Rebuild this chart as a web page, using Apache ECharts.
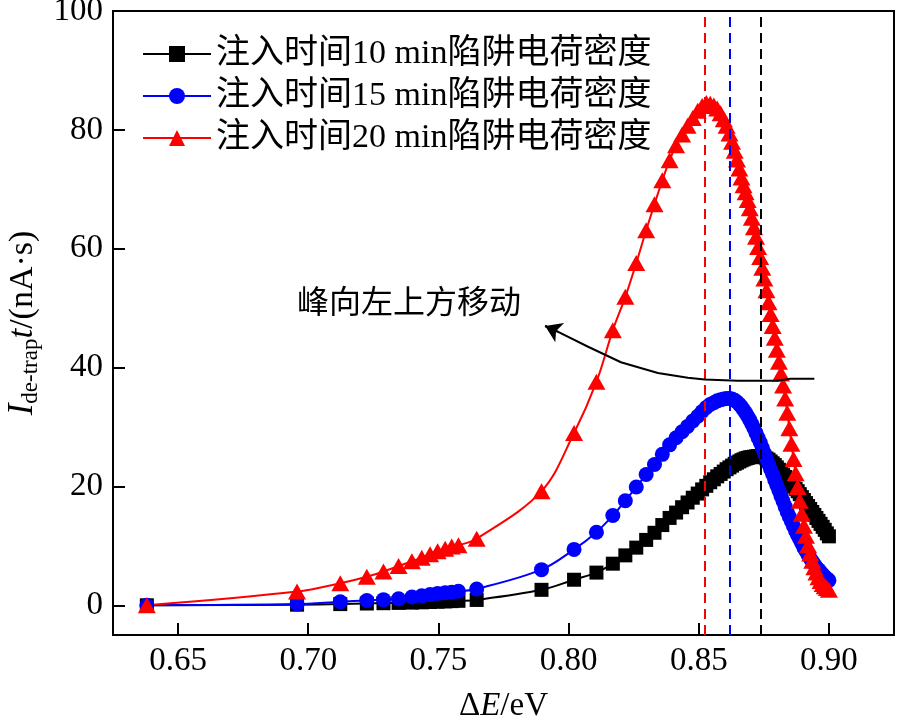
<!DOCTYPE html>
<html>
<head>
<meta charset="utf-8">
<script src="https://cdn.jsdelivr.net/npm/echarts@6/dist/echarts.min.js"></script>
<style>
html,body{margin:0;padding:0;background:#fff;}
#chart{width:898px;height:725px;}
</style>
</head>
<body>
<div id="chart"></div>
<script>
// ΔE / eV (shared sampling of all three curves)
const energy = [0.638, 0.6957, 0.7123, 0.7225, 0.7289, 0.7347, 0.7398, 0.7436, 0.7468, 0.7497,
  0.7526, 0.7551, 0.7577, 0.7647, 0.7896, 0.8021, 0.8107, 0.8170, 0.8218, 0.8260,
  0.8298, 0.8330, 0.8360, 0.8388, 0.8413, 0.8436, 0.8457, 0.8477, 0.8496, 0.8513,
  0.8529, 0.8544, 0.8558, 0.8571, 0.8584, 0.8596, 0.8607, 0.8618, 0.8628, 0.8638,
  0.8647, 0.8656, 0.8664, 0.8672, 0.8680, 0.8688, 0.8696, 0.8704, 0.8712, 0.8720,
  0.8728, 0.8736, 0.8744, 0.8752, 0.8760, 0.8768, 0.8776, 0.8784, 0.8792, 0.8800,
  0.8808, 0.8816, 0.8824, 0.8832, 0.8840, 0.8848, 0.8856, 0.8864, 0.8872, 0.8880,
  0.8888, 0.8896, 0.8904, 0.8912, 0.8920, 0.8928, 0.8936, 0.8944, 0.8952, 0.8960,
  0.8968, 0.8976, 0.8984, 0.8992, 0.9000];

// I_de-trap * t / (nA·s)
const density10 = [0.0, 0.1, 0.2, 0.3, 0.35, 0.4, 0.45, 0.5, 0.55, 0.6,
  0.65, 0.7, 0.75, 0.9, 2.6, 4.3, 5.5, 7.0, 8.4, 9.7,
  11.0, 12.2, 13.5, 14.7, 15.6, 16.5, 17.3, 18.1, 18.8, 19.5,
  20.1, 20.7, 21.2, 21.7, 22.1, 22.5, 22.9, 23.2, 23.5, 23.8,
  24.0, 24.2, 24.4, 24.55, 24.7, 24.8, 24.9, 24.95, 25.0, 25.05,
  25.1, 25.1, 25.05, 24.9, 24.7, 24.5, 24.2, 23.9, 23.6, 23.2,
  22.8, 22.4, 22.0, 21.6, 21.2, 20.8, 20.4, 20.0, 19.6, 19.2,
  18.7, 18.2, 17.7, 17.2, 16.7, 16.2, 15.7, 15.2, 14.7, 14.2,
  13.7, 13.2, 12.7, 12.1, 11.6];

const density15 = [0.0, 0.2, 0.6, 0.8, 0.95, 1.1, 1.4, 1.6, 1.8, 2.0,
  2.1, 2.2, 2.35, 2.75, 6.0, 9.4, 12.3, 15.1, 17.6, 19.9,
  22.0, 23.7, 25.4, 27.0, 28.2, 29.2, 30.1, 31.0, 31.8, 32.6,
  33.3, 33.8, 34.1, 34.4, 34.6, 34.7, 34.8, 34.8, 34.7, 34.5,
  34.2, 33.8, 33.4, 32.9, 32.4, 31.8, 31.2, 30.5, 29.8, 29.0,
  28.2, 27.4, 26.5, 25.6, 24.7, 23.8, 22.9, 22.0, 21.1, 20.2,
  19.3, 18.4, 17.5, 16.6, 15.7, 14.9, 14.1, 13.3, 12.5, 11.8,
  11.1, 10.4, 9.7, 9.1, 8.5, 7.9, 7.4, 6.9, 6.4, 6.0,
  5.6, 5.2, 4.8, 4.5, 4.2];

const density20 = [0.0, 2.3, 3.7, 4.8, 5.7, 6.6, 7.4, 8.0, 8.6, 9.1,
  9.5, 9.9, 10.1, 11.2, 19.2, 29.0, 37.6, 46.3, 51.9, 57.6,
  63.1, 67.5, 71.5, 74.9, 77.4, 79.2, 80.7, 82.0, 83.2, 84.0,
  84.5, 84.4, 84.1, 83.6, 82.8, 81.8, 80.7, 79.4, 78.0, 76.5,
  75.0, 73.5, 72.0, 70.7, 69.5, 68.2, 66.8, 65.2, 63.6, 62.0,
  60.3, 58.6, 56.8, 55.0, 53.0, 51.0, 49.0, 47.0, 45.0, 43.0,
  41.0, 39.0, 37.0, 34.8, 32.4, 29.8, 27.2, 24.6, 22.2, 19.9,
  17.6, 15.4, 13.4, 11.7, 10.1, 8.7, 7.5, 6.4, 5.5, 4.7,
  4.1, 3.6, 3.2, 2.9, 2.6];

const seriesNames = ['注入时间10 min陷阱电荷密度', '注入时间15 min陷阱电荷密度', '注入时间20 min陷阱电荷密度'];
// peak positions marked by dashed lines: 20 min, 15 min, 10 min
const peakEnergy = [0.8523, 0.8619, 0.8738];
const xTicks = [0.65, 0.70, 0.75, 0.80, 0.85, 0.90];
const yTicks = [0, 20, 40, 60, 80, 100];
// annotation arrow path (data units), from tail to tip
const arrowPath = [[0.8944, 38.1], [0.8852, 38.1], [0.8803, 37.8], [0.8649, 37.8], [0.8523, 38.0],
  [0.8458, 38.3], [0.8343, 39.1], [0.8201, 40.9], [0.8075, 43.5], [0.7960, 46.0], [0.7910, 47.0]];
const annotationText = '峰向左上方移动';

const FONT = '"Liberation Serif", "Times New Roman", "Noto Sans CJK SC", serif';
const colors = ['#000000', '#0000ff', '#ff0000'];
const symbols = ['rect', 'circle', 'triangle'];
const symbolSizes = [14, 15, [18, 16]];
const densities = [density10, density15, density20];

const chart = echarts.init(document.getElementById('chart'), null, {renderer: 'canvas'});

const series = densities.map((d, i) => ({
  name: seriesNames[i],
  type: 'line',
  data: energy.map((x, k) => [x, d[k]]),
  smooth: 0.35,
  symbol: symbols[i],
  symbolSize: symbolSizes[i],
  showAllSymbol: true,
  itemStyle: {color: colors[i]},
  lineStyle: {color: colors[i], width: 2},
  emphasis: {disabled: true},
  animation: false
}));

// arrow body
series.push({
  type: 'lines',
  coordinateSystem: 'cartesian2d',
  polyline: true,
  lineStyle: {color: '#000', width: 2, opacity: 1},
  data: [{coords: arrowPath}],
  silent: true,
  animation: false,
  z: 6
});
// arrow head (last segment)
series.push({
  type: 'lines',
  coordinateSystem: 'cartesian2d',
  symbol: ['none', 'arrow'],
  symbolSize: 16,
  lineStyle: {color: '#000', width: 2, opacity: 1, curveness: 0},
  data: [{coords: arrowPath.slice(-2)}],
  silent: true,
  animation: false,
  z: 6
});

series.push({
  type: 'line',
  data: [],
  silent: true,
  animation: false,
  markLine: {
    silent: true,
    animation: false,
    precision: 4,
    symbol: ['none', 'none'],
    label: {show: false},
    emphasis: {disabled: true},
    data: [
      {xAxis: peakEnergy[0], lineStyle: {color: colors[2], type: [10, 6], width: 2}},
      {xAxis: peakEnergy[1], lineStyle: {color: colors[1], type: [10, 6], width: 2}},
      {xAxis: peakEnergy[2], lineStyle: {color: colors[0], type: [10, 6], width: 2}}
    ]
  }
});

const option = {
  backgroundColor: '#fff',
  animation: false,
  grid: {left: 113, top: 11, right: 4, bottom: 90, show: true, borderColor: '#000', borderWidth: 2,
    containLabel: false, outerBoundsMode: 'none'},
  legend: {
    orient: 'vertical',
    left: 137,
    top: 32,
    itemWidth: 68,
    itemHeight: 20,
    itemGap: 8,
    data: seriesNames,
    selectedMode: false,
    textStyle: {fontSize: 34, fontFamily: FONT, color: '#000'}
  },
  xAxis: {
    type: 'value',
    min: 0.625,
    max: 0.925,
    name: '{n|Δ}{i|E}{n|/eV}',
    nameLocation: 'middle',
    nameGap: 55,
    nameTextStyle: {
      rich: {
        n: {fontSize: 33, fontFamily: FONT, color: '#000'},
        i: {fontSize: 33, fontFamily: FONT, fontStyle: 'italic', color: '#000'}
      }
    },
    axisLine: {onZero: false, lineStyle: {color: '#000', width: 2}},
    axisTick: {inside: true, length: 12, lineStyle: {color: '#000', width: 2}, customValues: xTicks},
    axisLabel: {customValues: xTicks, margin: 10, fontSize: 33, fontFamily: FONT, color: '#000',
      formatter: v => v.toFixed(2)},
    splitLine: {show: false}
  },
  yAxis: {
    type: 'value',
    min: -5,
    max: 100,
    name: '{i|I}{s|de-trap}{i|t}{n|/(nA·s)}',
    nameLocation: 'middle',
    nameGap: 66,
    nameRotate: 90,
    nameTextStyle: {
      rich: {
        i: {fontSize: 35, fontFamily: FONT, fontStyle: 'italic', color: '#000', lineHeight: 40},
        s: {fontSize: 23, fontFamily: FONT, color: '#000', lineHeight: 24, verticalAlign: 'bottom'},
        n: {fontSize: 34, fontFamily: FONT, color: '#000', lineHeight: 40}
      }
    },
    axisLine: {onZero: false, lineStyle: {color: '#000', width: 2}},
    axisTick: {inside: true, length: 12, lineStyle: {color: '#000', width: 2}, customValues: yTicks},
    axisLabel: {customValues: yTicks, margin: 10, fontSize: 33, fontFamily: FONT, color: '#000'},
    splitLine: {show: false}
  },
  graphic: [{
    type: 'text',
    left: 297,
    top: 285,
    style: {text: annotationText, fontSize: 32, fontFamily: '"Noto Sans CJK SC", sans-serif', fill: '#000'},
    silent: true
  }],
  series: series
};

chart.setOption(option);
</script>
</body>
</html>
